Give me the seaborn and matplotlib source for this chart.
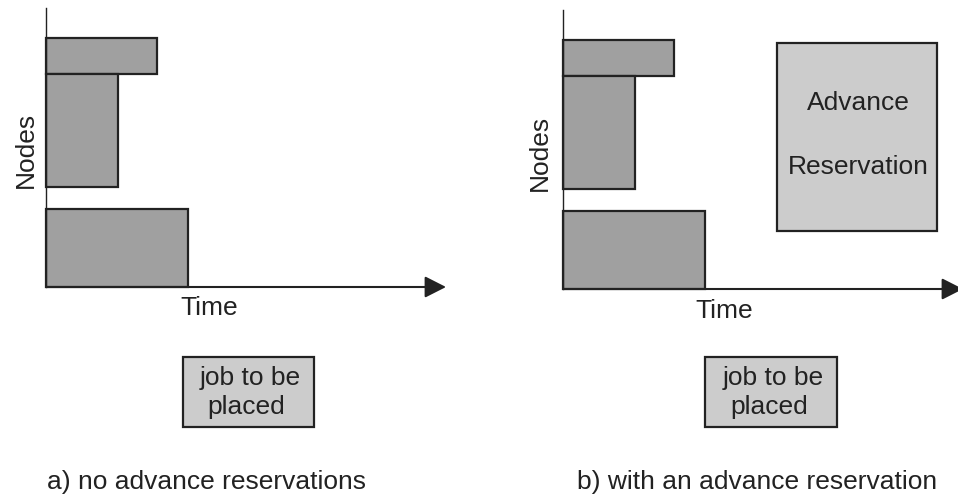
import matplotlib
matplotlib.use("Agg")
import matplotlib.pyplot as plt
from matplotlib.patches import Rectangle
import seaborn as sns

W, H = 958, 498

# Scheduled jobs (time start, duration, first node, node count)
job_start = [0, 0, 0]
job_duration = [111, 72, 142]
node_start = [213, 100, 0]
node_count = [36, 113, 78]

# Advance reservation (panel b only)
res_start = [214]
res_duration = [160]
res_node_start = [58]
res_node_count = [188]

panel_titles = ["a) no advance reservations", "b) with an advance reservation"]
x_label = "Time"
y_label = "Nodes"
res_label = ["Advance", "Reservation"]
pending_label = ["job to be", "placed"]

sns.set_theme(style="white")
plt.rcParams["font.family"] = ["Liberation Sans", "DejaVu Sans"]

DARK = "#a0a0a0"
LIGHT = "#cccccc"
EDGE = "#222222"
FS = 19

fig = plt.figure(figsize=(W / 100, H / 100), dpi=100)
fig.patch.set_facecolor("white")


def fx(x):
    return x / W


def fy(y):
    return 1 - y / H


# panel geometry in pixels: origin x, origin y (axis corner), width, height
panels = [(46, 287), (563, 289)]
PW, PH = 400, 279

for i, (ox, oy) in enumerate(panels):
    ax = fig.add_axes([fx(ox), fy(oy), PW / W, PH / H])
    ax.set_xlim(0, PW)
    ax.set_ylim(0, PH)
    ax.set_facecolor("none")
    for s in ["top", "right", "bottom"]:
        ax.spines[s].set_visible(False)
    ax.spines["left"].set_color(EDGE)
    ax.spines["left"].set_linewidth(1.0)
    ax.set_xticks([])
    ax.set_yticks([])

    bars = ax.barh(node_start, job_duration, height=node_count, left=job_start,
                   align="edge", color=DARK, edgecolor=EDGE, linewidth=1.6)
    for b in bars:
        b.set_clip_on(False)
    if i == 1:
        rb = ax.barh(res_node_start, res_duration, height=res_node_count,
                     left=res_start, align="edge", color=LIGHT,
                     edgecolor=EDGE, linewidth=1.6)
        for b in rb:
            b.set_clip_on(False)

    ax.annotate("", xy=(PW, 0), xytext=(0, 0),
                arrowprops=dict(arrowstyle="-|>,head_length=0.65,head_width=0.33",
                                mutation_scale=20, lw=1.5, color=EDGE,
                                shrinkA=0, shrinkB=0),
                annotation_clip=False)

# axis labels
for (tx, ty) in [(209, 315), (724, 318)]:
    fig.text(fx(tx), fy(ty), x_label, ha="center", va="baseline",
             fontsize=FS, color=EDGE)
for (nx, ny) in [(33, 150), (547, 153)]:
    fig.text(fx(nx), fy(ny), y_label, ha="center", va="baseline",
             rotation=90, rotation_mode="anchor", fontsize=FS, color=EDGE)

# advance reservation label
fig.text(fx(858), fy(110), res_label[0], ha="center", va="baseline",
         fontsize=FS, color=EDGE)
fig.text(fx(858), fy(174), res_label[1], ha="center", va="baseline",
         fontsize=FS, color=EDGE)

# job-to-be-placed boxes
for (bx0, bx1) in [(183, 314), (705, 837)]:
    fig.patches.append(Rectangle((fx(bx0), fy(427)), (bx1 - bx0) / W, 70 / H,
                                 transform=fig.transFigure, facecolor=LIGHT,
                                 edgecolor=EDGE, linewidth=1.6))
    cx = (bx0 + bx1) / 2
    fig.text(fx(cx + 2), fy(385), pending_label[0], ha="center", va="baseline",
             fontsize=FS, color=EDGE)
    fig.text(fx(cx - 2), fy(414), pending_label[1], ha="center", va="baseline",
             fontsize=FS, color=EDGE)

# captions
fig.text(fx(47), fy(489), panel_titles[0], ha="left", va="baseline",
         fontsize=FS, color=EDGE)
fig.text(fx(577), fy(489), panel_titles[1], ha="left", va="baseline",
         fontsize=FS, color=EDGE)

fig.savefig("out.png", dpi=100, facecolor="white")
